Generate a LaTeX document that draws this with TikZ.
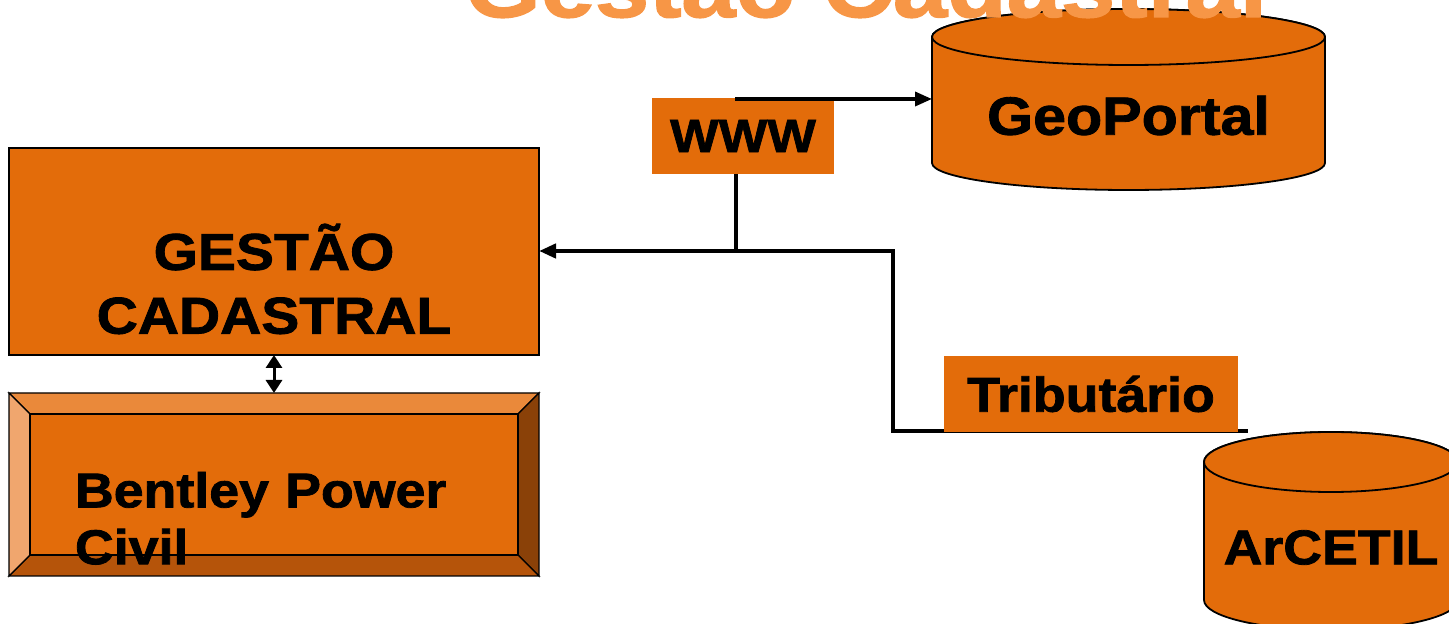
\documentclass[tikz,border=0pt]{standalone}
\usepackage{fontspec}
\newfontfamily\cadfont[FakeStretch=1.1,BoldFeatures={FakeBold=1.6}]{Liberation Sans}
\usetikzlibrary{arrows.meta,calc,backgrounds}
\definecolor{cadorange}{RGB}{227,108,10}
\definecolor{titleorange}{RGB}{247,150,70}
\definecolor{bevtop}{RGB}{234,137,58}
\definecolor{bevleft}{RGB}{240,166,110}
\definecolor{bevright}{RGB}{138,65,8}
\definecolor{bevbottom}{RGB}{181,84,10}
\begin{document}
\begin{tikzpicture}[>={Triangle[length=17bp,width=14bp]},line join=miter,
  cadbox/.style={fill=cadorange,inner sep=0pt,outer sep=0pt},
  link/.style={black,line width=3.5bp},
  dbl/.style={black,line width=3bp,{Triangle[length=13bp,width=16bp]}-{Triangle[length=13bp,width=16bp]}},
  bevel/.style={draw=black,line width=1.4bp},
  dbside/.style={draw=black,line width=1.8bp,fill=cadorange},
  ]
\useasboundingbox (0bp,0bp) rectangle (1449bp,624bp);
%%
\node (gestao) at (274bp,372.5bp) [cadbox,draw=black,line width=1.4bp,minimum width=530bp,minimum height=207bp,align=center,font=\cadfont\bfseries\fontsize{52}{64}\selectfont] {\rule{0pt}{101bp}GESTÃO\\CADASTRAL};
  \node (bentley) at (274bp,139.5bp) [inner sep=0pt,outer sep=0pt,minimum width=530bp,minimum height=183bp,text width=398bp,align=left,font=\cadfont\bfseries\fontsize{49}{57}\selectfont] {\rule{0pt}{103bp}Bentley Power\\Civil};
  \node (www) at (743bp,488bp) [cadbox,minimum width=182bp,minimum height=76bp,font=\cadfont\bfseries\fontsize{47}{56}\selectfont] {WWW};
  \node (tribu) at (1091bp,230bp) [cadbox,minimum width=294bp,minimum height=76bp,font=\cadfont\bfseries\fontsize{49}{57}\selectfont] {Tributário};
  \node (geoportal) at (1128.5bp,508.5bp) [inner sep=0pt,outer sep=0pt,minimum width=393bp,font=\cadfont\bfseries\fontsize{54}{64}\selectfont] {GeoPortal};
  \node (arcetil) at (1331bp,76.5bp) [inner sep=0pt,outer sep=0pt,minimum width=254bp,font=\cadfont\bfseries\fontsize{49}{57}\selectfont] {ArCETIL};
%
\coordinate (wwwtap) at (735bp,525bp);
  \coordinate (split) at (736bp,373bp);
  \coordinate (turn) at (893bp,193bp);
  \coordinate (tribend) at ($(tribu.south east)+(10bp,1bp)$);
  \draw [link,->] (wwwtap) -- (wwwtap -| geoportal.west);
  \draw [link] (split |- www.south) -- (split);
  \draw [link,line width=4.5bp,->] (split) -- (split -| gestao.east);
  \draw [dbl] (gestao.south) -- (bentley.north);
%
\begin{scope}[on background layer]
  % bevelled frame
  \coordinate (bnw) at ($(bentley.north west)+(21bp,-21bp)$);
  \coordinate (bne) at ($(bentley.north east)+(-21bp,-21bp)$);
  \coordinate (bse) at ($(bentley.south east)+(-21bp,21bp)$);
  \coordinate (bsw) at ($(bentley.south west)+(21bp,21bp)$);
  \filldraw [bevel,fill=bevtop] (bentley.north west) -- (bentley.north east) -- (bne) -- (bnw) -- cycle;
  \filldraw [bevel,fill=bevright] (bentley.north east) -- (bentley.south east) -- (bse) -- (bne) -- cycle;
  \filldraw [bevel,fill=bevbottom] (bentley.south east) -- (bentley.south west) -- (bsw) -- (bse) -- cycle;
  \filldraw [bevel,fill=bevleft] (bentley.south west) -- (bentley.north west) -- (bnw) -- (bsw) -- cycle;
  \filldraw [bevel,fill=cadorange] (bnw) rectangle (bse);
  % databases
  \filldraw [dbside] (932bp,587bp) -- (932bp,461bp) arc[start angle=180,end angle=360,x radius=196.5bp,y radius=27bp] -- (1325bp,587bp) arc[start angle=0,end angle=180,x radius=196.5bp,y radius=28bp] -- cycle;
  \draw [dbside] (1128.5bp,587bp) ellipse[x radius=196.5bp,y radius=28bp];
  \filldraw [dbside] (1204bp,162bp) -- (1204bp,24bp) arc[start angle=180,end angle=360,x radius=127bp,y radius=30bp] -- (1458bp,162bp) arc[start angle=0,end angle=180,x radius=127bp,y radius=30bp] -- cycle;
  \draw [dbside] (1331bp,162bp) ellipse[x radius=127bp,y radius=30bp];
  % line to Tributario
  \draw [link] (split) -| (turn) -- (tribend);
\end{scope}
%
\node (title) at (866bp,607bp) [anchor=base,text=titleorange,inner sep=0pt,font=\cadfont\bfseries\fontsize{89}{100}\selectfont] {Gestão Cadastral};
%
\end{tikzpicture}
\end{document}
